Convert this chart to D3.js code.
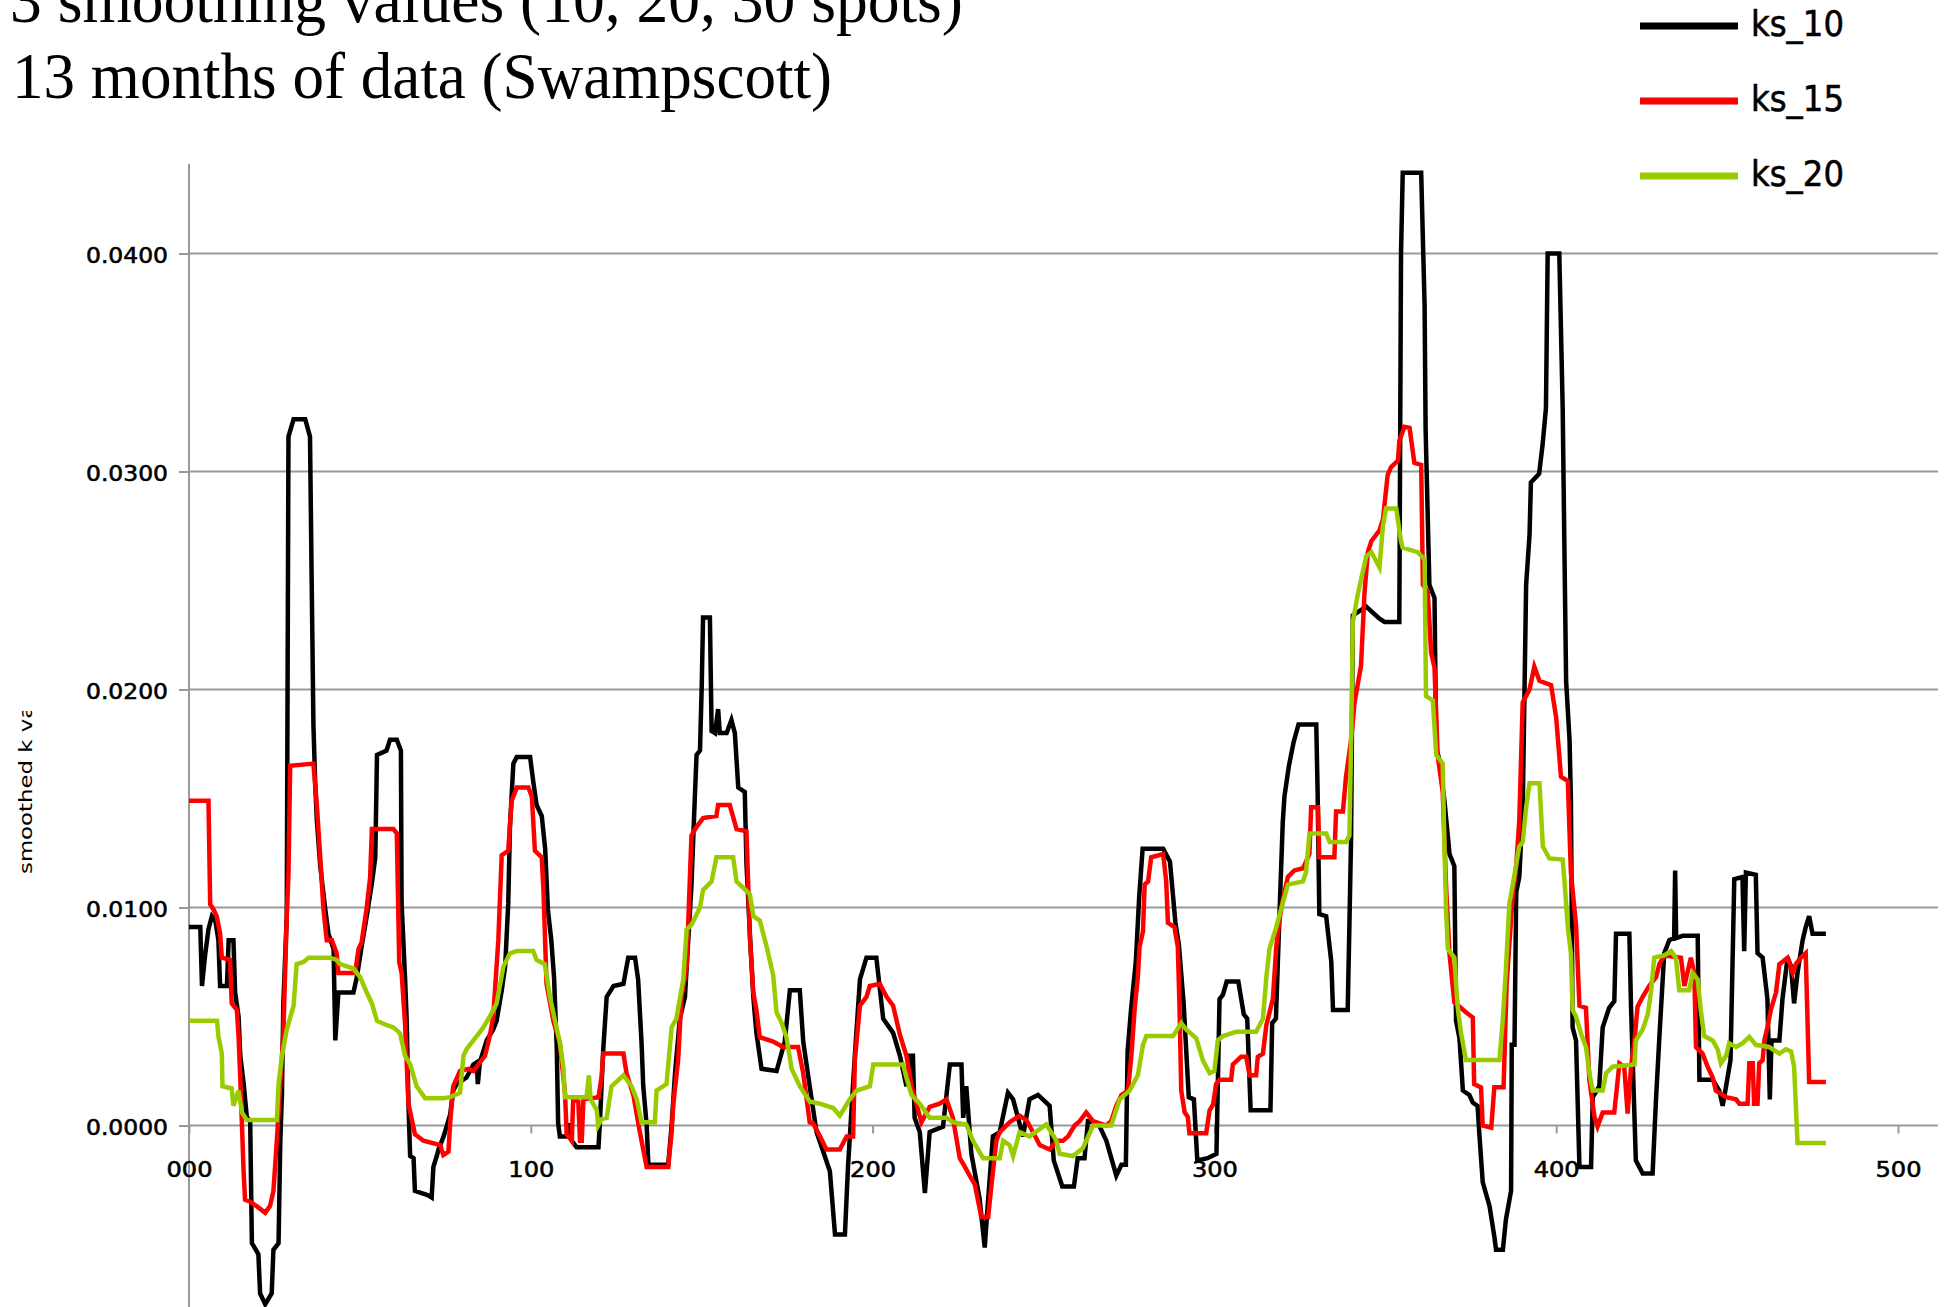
<!DOCTYPE html>
<html>
<head>
<meta charset="utf-8">
<script src="https://cdn.jsdelivr.net/npm/d3@7"></script>
<style>
  body { margin: 0; background: #fff; }
  svg { display: block; }
</style>
</head>
<body>
<div class="canvas"></div>
<script>
// 제목, 축 제목, 범례
const titleLines = ["3 smoothing values (10, 20, 30 spots)", "13 months of data (Swampscott)"];
const yTitle = "smoothed k value";
const seriesNames = ["ks_10", "ks_15", "ks_20"];
const seriesColors = ["#000000", "#ff0000", "#99cc00"];

// 눈금
const xTicks = [0, 100, 200, 300, 400, 500];
const yTicks = [0, 0.01, 0.02, 0.03, 0.04];

// 시리즈 값 [x, value]
const ks10 = [[0,.0091],[3.3,.0091],[3.8,.0064],[4.7,.0078],[5.7,.0090],[6.7,.0096],[7.7,.0094],[8.6,.0085],[9.1,.0064],[11.1,.0064],[11.6,.0085],[13,.0085],[13.5,.0061],[14.5,.0050],[15,.0032],[16,.0019],[16.9,.0004],[17.9,.0002],[18.4,-.0054],[20.3,-.0059],[20.8,-.0077],[22.3,-.0082],[24.2,-.0077],[24.7,-.0057],[26.2,-.0054],[26.7,-.0008],[27.2,.0015],[27.6,.0056],[28.6,.0096],[29.1,.0316],[30.6,.0324],[34,.0324],[35.4,.0316],[35.9,.0249],[36.4,.0184],[36.9,.0158],[37.4,.0140],[38.4,.0119],[39.8,.0100],[40.8,.0088],[42.3,.0081],[42.8,.0039],[43.7,.0061],[48.1,.0061],[49.1,.0068],[50.5,.0082],[52,.0096],[53.5,.0111],[54.5,.0123],[55,.0170],[57.8,.0172],[58.8,.0177],[60.8,.0177],[62,.0172],[62.2,.0102],[63.2,.0068],[63.7,.0048],[64.2,.0010],[64.7,-.0014],[65.7,-.0015],[66.1,-.0030],[70,-.0032],[71,-.0033],[71.5,-.0019],[72.5,-.0014],[73,-.0011],[74.5,-.0005],[76.4,.0005],[77.3,.0016],[78.3,.0019],[81.2,.0022],[83.2,.0028],[84.2,.0029],[84.5,.0019],[85.1,.0029],[87.1,.0039],[89,.0044],[90,.0048],[91.5,.0062],[92.5,.0073],[93.4,.0102],[93.9,.0137],[94.9,.0166],[95.9,.0169],[99.8,.0169],[100.7,.0158],[101.7,.0147],[103.2,.0142],[104.2,.0127],[105,.0099],[106,.0085],[106.8,.0068],[107.6,.0035],[108,.0001],[108.5,-.0005],[110.5,-.0005],[111,.0001],[112,-.0007],[113.4,-.0010],[119.8,-.0010],[120.2,.0001],[121.2,.0035],[122.2,.0059],[124.2,.0064],[127.1,.0065],[128.5,.0077],[130.5,.0077],[131.4,.0067],[132.4,.0038],[132.9,.0018],[133.9,0],[134.4,-.0018],[140.2,-.0018],[141.2,0],[142.2,.0024],[143.6,.0049],[145.1,.0059],[146.1,.0086],[147,.0110],[148,.0151],[148.5,.0170],[149.5,.0172],[150,.0201],[150.4,.0233],[152.4,.0233],[152.9,.0181],[153.9,.0180],[154.8,.0191],[155.3,.0180],[157.3,.0180],[158.7,.0186],[159.7,.0180],[160.7,.0155],[162.6,.0153],[163.1,.0120],[164.1,.0088],[165.1,.0059],[166,.00425],[167.5,.0026],[171.9,.0025],[174.3,.00385],[175.8,.0062],[178.7,.0062],[179.7,.00385],[181.6,.0018],[183.6,-.0003],[187.5,-.0021],[189,-.0050],[191.9,-.0050],[192.8,-.0019],[194.8,.0032],[196.3,.0067],[198.2,.0077],[201.1,.0077],[203.1,.0049],[206,.00425],[208,.0032],[209.9,.0018],[210.9,.0032],[211.8,.0032],[212.3,.00035],[213.8,-.0003],[215.3,-.0031],[216.7,-.0003],[220.6,-.00005],[222.6,.0028],[226,.0028],[226.5,.00035],[227.4,.0018],[228.9,-.0013],[231.3,-.00335],[232.8,-.0056],[233.8,-.0034],[235.2,-.0005],[237.2,-.0003],[239.6,.0015],[241.1,.0012],[244,-.0005],[245.9,.0012],[248.4,.0014],[251.8,.0009],[253,-.0016],[255.5,-.0028],[258.9,-.0028],[260,-.0015],[262,-.0015],[263,.0002],[266,.0001],[268.4,-.0007],[271.3,-.0023],[272.8,-.0018],[274.1,-.0018],[274.6,.0034],[275.6,.0053],[277,.0075],[278,.0105],[279,.0127],[285,.0127],[287,.0121],[288.6,.0093],[289.6,.0083],[291,.0056],[292.5,.0013],[294,.0012],[295,-.0016],[298,-.0015],[300.6,-.0013],[301.5,.0058],[302.5,.0060],[303.6,.0066],[307,.0066],[308.6,.0051],[309.6,.0049],[310.6,.0007],[316.4,.0007],[316.9,.0047],[318,.0049],[319,.0095],[320,.0139],[320.5,.0151],[321.8,.0165],[323.2,.0176],[324.6,.0184],[329.8,.0184],[330.2,.0153],[330.7,.0097],[332.7,.0096],[334.2,.0075],[334.7,.0053],[339,.0053],[339.5,.0092],[340,.0133],[340.5,.0234],[344.4,.0238],[348.3,.02325],[349.8,.0231],[354.1,.0231],[354.6,.0400],[355.1,.0437],[360.5,.0437],[361.5,.0376],[361.8,.0319],[362.9,.0248],[364.4,.0242],[364.9,.0173],[365.8,.0168],[367.3,.0149],[368.8,.01245],[370.2,.0119],[370.7,.0048],[371.7,.0040],[372.7,.0016],[374.6,.0014],[375.6,.00105],[377,.0009],[377.5,-.00035],[378.5,-.0026],[380.5,-.0037],[381.9,-.0051],[382.4,-.0057],[384.4,-.0057],[385.3,-.0043],[386.8,-.0030],[387,.0037],[387.8,.0037],[388.3,.0107],[389.2,.0114],[390.2,.0145],[391.2,.0248],[392.2,.0271],[392.6,.0295],[395,.0299],[396,.0312],[397,.0329],[397.5,.0400],[400.9,.0400],[401.9,.0329],[402.4,.0265],[402.9,.0204],[403.9,.0177],[404.3,.0150],[404.8,.0045],[405.8,.0039],[406.8,-.0019],[410.2,-.0019],[410.7,.0013],[412.6,.0018],[413.6,.0045],[415.5,.0054],[417,.0057],[417.5,.0088],[421.4,.0088],[421.9,.0054],[423.3,-.0016],[425.3,-.0022],[428.2,-.0022],[429.2,.0012],[430.2,.0041],[431.6,.0079],[433.1,.0085],[434.5,.0086],[434.8,.0117],[435.1,.0086],[437,.0087],[441.4,.0087],[441.9,.0021],[445.8,.0021],[447.7,.0016],[448.7,.0009],[449.7,.0018],[451,.0030],[452.1,.0113],[454.5,.0114],[455,.0080],[455.5,.0116],[458.4,.0115],[458.9,.0079],[460.4,.0077],[461.8,.0058],[462.5,.0012],[463,.0039],[465.3,.0039],[466.2,.0058],[467.7,.0077],[468.7,.0073],[469.6,.0056],[470.6,.0070],[472.1,.0085],[473,.0091],[474,.0096],[475,.0088],[478.9,.0088]];

const ks15 = [[0,.0149],[5.7,.0149],[6.2,.01015],[7.2,.0099],[8.1,.0096],[9.1,.0088],[9.6,.0077],[12,.0076],[12.5,.0056],[14,.0053],[14.5,.0041],[15,.0022],[15.5,0],[16,-.0022],[16.4,-.0034],[17.9,-.0035],[19.8,-.0037],[22.3,-.0040],[23.7,-.0037],[24.7,-.0030],[25.7,-.0007],[26.7,.0019],[27.6,.0042],[28.6,.0096],[29.1,.0115],[29.6,.0165],[36.4,.0166],[37.4,.0147],[38.4,.0123],[39.3,.0100],[40.3,.0085],[41.8,.0085],[43.2,.0079],[43.7,.0070],[48.6,.0070],[49.6,.0081],[50.5,.0084],[52,.0100],[53,.0114],[53.5,.0136],[59.8,.0136],[60.8,.0134],[61.5,.0075],[62.2,.0070],[63.2,.0047],[64.2,.0010],[66.1,-.0004],[68.6,-.0007],[73.5,-.0009],[74.4,-.00135],[75.9,-.0012],[76.4,.0001],[77.3,.0018],[79.3,.0025],[81.7,.0026],[83.2,.0025],[86.6,.0032],[88,.0041],[89,.0050],[90.5,.0085],[91,.0105],[91.5,.0124],[93.4,.0126],[94.4,.0149],[95.9,.0155],[99.3,.0155],[100.3,.0151],[101.2,.0126],[103.2,.0123],[103.7,.0108],[104.6,.0065],[106.6,.0048],[108.5,.0038],[110,.0015],[110.5,-.0004],[112,-.0007],[112.4,.0012],[113.9,.0011],[114.4,-.0007],[114.9,-.0007],[115.4,.0012],[119.8,.0013],[120.7,.0022],[121.2,.0033],[127.1,.0033],[128,.0024],[130,.0014],[131.9,-.0003],[133.9,-.0019],[140.2,-.0019],[141.2,-.0003],[141.7,.0010],[143.1,.0030],[144.1,.0059],[145.6,.0073],[147,.0133],[148.5,.0137],[150.4,.0141],[154.3,.0142],[154.8,.0147],[158.2,.0147],[160.2,.0136],[163.1,.0135],[164.1,.0086],[165.1,.0061],[166,.0053],[167,.00405],[170.9,.00385],[173.8,.0036],[178.2,.0036],[179.7,.0024],[181.6,.00015],[182.6,.0001],[184.6,-.0005],[186.5,-.0011],[190.4,-.0011],[192.4,-.0005],[194.3,-.0005],[194.8,.0030],[196.3,.0055],[198.2,.0059],[199.2,.0064],[202.1,.0065],[204.1,.0059],[206,.0055],[208,.00415],[209.9,.0032],[211.4,.0018],[212.8,.0010],[214.3,.00015],[216.7,.00085],[219.6,.0010],[221.6,.0012],[223.5,.00035],[225.5,-.0015],[227,-.0019],[228.4,-.0023],[229.9,-.0027],[231.8,-.0042],[233.8,-.0042],[234.8,-.0027],[236.2,-.0007],[237.2,-.0003],[240.1,.00015],[243,.00045],[245,.00025],[246.9,-.0003],[248.9,-.0009],[251.8,-.0011],[253.8,-.0007],[255.7,-.0007],[257.2,-.0005],[259.1,0],[260.6,.0002],[262.5,.0006],[264.5,.0002],[266.4,.0001],[268.4,0],[269.8,.0002],[271.3,.0009],[272.8,.0014],[274.7,.0016],[275.7,.0032],[276.7,.0054],[277.6,.0068],[278.1,.0082],[279.1,.0089],[279.6,.01105],[280.6,.0112],[281.5,.0123],[285,.01245],[285.9,.0112],[286.4,.0093],[288.3,.0091],[289.3,.0082],[289.8,.0054],[290.3,.0016],[291.3,.0006],[292.2,.0004],[292.7,-.00035],[297.6,-.00035],[298.6,.0007],[299.6,.00095],[300.5,.0019],[301.5,.0021],[304.9,.0021],[305.4,.0028],[307.8,.00315],[309.3,.00315],[310.3,.0023],[312.2,.0023],[312.7,.00315],[314.2,.0033],[315.2,.0046],[317.1,.0058],[318.1,.0082],[319.1,.0095],[320,.01035],[321.5,.0114],[323.4,.0117],[325.9,.0118],[326.8,.0121],[327.8,.01245],[328.3,.0146],[330.3,.0146],[330.7,.0123],[335.1,.0123],[335.6,.0144],[337.6,.0144],[338.5,.0160],[340,.0177],[341,.0194],[342.9,.0211],[343.9,.0244],[344.9,.0263],[345.9,.0268],[348.3,.0273],[349.3,.0278],[350.7,.02985],[351.7,.0302],[353.7,.0305],[354.1,.0314],[355.6,.03205],[357.1,.0320],[358.5,.0304],[360.5,.0303],[361,.0248],[362.4,.0245],[363.4,.0217],[364.4,.0210],[365.3,.0170],[366.8,.0153],[367.8,.0109],[368.8,.00785],[370.2,.00565],[373.6,.0052],[375.6,.00495],[376,.0019],[378,.00175],[378.5,0],[381,-.0001],[381.9,.00175],[384.6,.00175],[385.5,.0065],[387.3,.0106],[388.3,.0119],[389.2,.0140],[390.2,.0194],[392.2,.0200],[393.6,.02105],[395.1,.0204],[398.5,.0202],[400,.0187],[401.4,.0160],[403.4,.0158],[404.3,.0116],[405.8,.0092],[406.8,.0055],[408.7,.0054],[409.7,.0021],[411.2,.0004],[412.1,-.00005],[413.6,.0006],[417,.0006],[418.5,.00285],[419.9,.0027],[420.9,.00055],[421.9,.0027],[422.9,.0039],[423.8,.00545],[425.3,.0059],[427.2,.0064],[429.2,.0068],[430.2,.0074],[431.6,.0078],[436.5,.0077],[437.5,.0064],[439.4,.0077],[440.4,.0070],[440.9,.0036],[442.8,.0033],[444.3,.0027],[445.8,.0022],[446.7,.0016],[449.7,.0013],[452.6,.0012],[453.6,.0010],[456,.0010],[456.5,.00285],[457.5,.00285],[457.9,.0010],[458.9,.0010],[459.4,.00285],[460.4,.0030],[460.9,.0039],[461.8,.0045],[462.8,.0053],[464.3,.0061],[465.3,.0074],[467.7,.0077],[469.2,.0070],[470.1,.0074],[471.6,.0077],[473,.0079],[473.5,.0050],[474,.0020],[478.9,.0020]];

const ks20 = [[0,.0048],[8.2,.0048],[8.6,.0041],[9.6,.0033],[9.8,.0018],[12.5,.0017],[13,.0009],[14.5,.0016],[15.5,.0006],[16.9,.00025],[25.7,.00025],[26.2,.0019],[27.2,.0032],[28.6,.0044],[30.6,.0055],[31.5,.0074],[33.5,.0075],[35,.0077],[41.3,.0077],[43.2,.0076],[44.2,.0074],[48.1,.0072],[50.1,.0068],[52,.0061],[53.5,.0056],[55,.0048],[57.9,.0046],[59.8,.0045],[61.3,.0043],[61.8,.0042],[63.2,.0032],[64.7,.0028],[66.6,.0018],[69.1,.00125],[74.4,.00125],[76.4,.0013],[79.3,.0015],[80.3,.0032],[81.2,.0035],[82.7,.0038],[84.2,.0041],[86.1,.0045],[88,.0050],[90,.0056],[92,.0073],[93.9,.0079],[95.9,.0080],[100.7,.0080],[101.7,.0076],[104.1,.0074],[105.6,.0059],[107.1,.0048],[108.5,.0038],[109.5,.0027],[110,.0013],[116.3,.0013],[117,.0023],[117.5,.0012],[119.3,.0007],[119.7,0],[120.7,.0003],[122.2,.00035],[123.6,.0018],[127.1,.0023],[129.5,.0018],[131,.0012],[132.4,.00015],[136.3,.00015],[136.8,.0016],[139.7,.0019],[141.2,.0045],[142.6,.0049],[144.6,.0067],[145.6,.0090],[147,.0092],[149.5,.0100],[150.4,.0108],[152.9,.0112],[154.3,.0123],[159.2,.0123],[160.2,.0112],[164.1,.0106],[165.1,.0096],[167,.0094],[169,.0082],[170.9,.0069],[171.9,.0052],[173.4,.0047],[174.8,.00405],[176.3,.0026],[178.7,.0018],[181.6,.0011],[184.6,.0010],[188.5,.0008],[190.4,.00045],[193.3,.0012],[195.3,.0016],[199.2,.0018],[200.2,.0028],[208.9,.0028],[209.9,.0022],[211.4,.0014],[213.8,.0010],[216.7,.00035],[221.6,.00035],[223.5,.00015],[227.4,.00005],[229.4,-.0007],[232.3,-.0015],[237.2,-.0015],[238.2,-.0007],[240.1,-.0009],[241.1,-.0014],[243,-.0003],[245.9,-.0005],[250.8,.00005],[253.8,-.0007],[254.7,-.0013],[258.6,-.0014],[261.5,-.00105],[264.5,0],[269.8,0],[272.3,.0012],[275.2,.0016],[277.6,.0023],[279.1,.0037],[280.1,.0041],[287.9,.0041],[290.3,.0047],[291.8,.0044],[294.7,.0040],[296.6,.0030],[298.6,.0024],[300,.0025],[301,.0039],[302.5,.0041],[306.4,.0043],[312.2,.0043],[314.2,.0049],[315.2,.0068],[316.1,.0081],[318.1,.0091],[320,.0102],[321.5,.01105],[325.9,.0112],[326.8,.0116],[327.8,.0134],[332.7,.0134],[333.7,.0130],[338.5,.0130],[339.5,.0133],[340,.0177],[340.5,.0231],[342,.0244],[344.4,.0261],[345.9,.0263],[347.3,.0259],[348.3,.0256],[349.3,.0275],[350.2,.0283],[353.2,.0283],[354.6,.0268],[355.1,.0265],[359.5,.0263],[361.5,.02596],[361.9,.0197],[363.9,.0195],[364.9,.0170],[366.8,.0166],[367.3,.0128],[367.8,.0098],[368.3,.0081],[370.2,.0077],[371.2,.0054],[372.2,.0042],[373.6,.0030],[383.4,.0030],[384.4,.0049],[385.3,.0072],[386.3,.0102],[387.3,.01105],[389.2,.0128],[390.2,.0130],[391.2,.0146],[392.2,.0157],[395.1,.0157],[396.1,.0128],[398,.01225],[401.9,.0122],[402.4,.01126],[403.4,.0091],[404.3,.0079],[404.8,.0053],[405.8,.0050],[407.3,.0042],[408.7,.0036],[409.7,.0024],[410.7,.0016],[413.6,.0016],[414.6,.0024],[416.5,.0027],[422.9,.0028],[423.3,.0039],[425.3,.0044],[426.8,.0051],[427.7,.0061],[428.7,.0077],[431.6,.0078],[433.6,.0080],[435,.0077],[436,.0062],[438.9,.0062],[439.9,.0070],[441.4,.0067],[442.3,.0053],[443.3,.0041],[445.8,.0039],[447.2,.0035],[448.2,.00285],[449.7,.0032],[450.6,.00377],[452.6,.0036],[454.5,.00377],[456.5,.00407],[458.4,.0037],[462.3,.0036],[465.3,.0033],[467.2,.0035],[468.7,.0034],[469.6,.0027],[470.6,-.0008],[478.9,-.0008]];

const seriesData = [ks10, ks15, ks20];

// SVG 크기
const svgWidth = 1948, svgHeight = 1307;
const plotTop = 164, plotRight = 1938;

const svg = d3.select(".canvas").append("svg")
  .attr("width", svgWidth)
  .attr("height", svgHeight);

// 스케일
const xScale = d3.scaleLinear().domain([0, 500]).range([189, 1898]);
const yScale = d3.scaleLinear().domain([0, 0.04]).range([1125.5, 253.5]);

// 가로 격자선
svg.append("g")
  .selectAll("line")
  .data(yTicks)
  .join("line")
  .attr("x1", xScale(0))
  .attr("x2", plotRight)
  .attr("y1", d => yScale(d))
  .attr("y2", d => yScale(d))
  .attr("stroke", "#999")
  .attr("stroke-width", 2);

// y 축 선
svg.append("line")
  .attr("x1", xScale(0)).attr("x2", xScale(0))
  .attr("y1", plotTop).attr("y2", svgHeight)
  .attr("stroke", "#999")
  .attr("stroke-width", 2);

// y 축
const gy = svg.append("g")
  .attr("transform", `translate(${xScale(0)},0)`)
  .call(d3.axisLeft(yScale).tickValues(yTicks).tickFormat(d3.format(".4f")).tickSize(10).tickPadding(11));
gy.select(".domain").remove();
gy.selectAll("line").attr("stroke", "#999").attr("stroke-width", 2);
gy.selectAll("text")
  .attr("dy", "0.43em")
  .attr("font-family", "DejaVu Sans")
  .attr("font-size", 22)
  .attr("fill", "#000")
  .attr("stroke", "#000")
  .attr("stroke-width", 0.6)
  .attr("textLength", 82)
  .attr("lengthAdjust", "spacingAndGlyphs");

// x 축
const gx = svg.append("g")
  .attr("transform", `translate(0,${yScale(0)})`)
  .call(d3.axisBottom(xScale).tickValues(xTicks).tickFormat(d3.format("03d")).tickSize(8).tickPadding(28));
gx.select(".domain").remove();
gx.selectAll("line").attr("stroke", "#999").attr("stroke-width", 2);
gx.selectAll("text")
  .attr("font-family", "DejaVu Sans")
  .attr("font-size", 22)
  .attr("fill", "#000")
  .attr("stroke", "#000")
  .attr("stroke-width", 0.6)
  .attr("textLength", 46)
  .attr("lengthAdjust", "spacingAndGlyphs");

// 선 그래프
const line = d3.line()
  .x(d => xScale(d[0]))
  .y(d => yScale(d[1]));

seriesData.forEach((data, i) => {
  svg.append("path")
    .datum(data)
    .attr("d", line)
    .attr("fill", "none")
    .attr("stroke", seriesColors[i])
    .attr("stroke-width", 4.5)
    .attr("stroke-linejoin", "miter");
});

// 제목
svg.append("text")
  .attr("x", 10).attr("y", 22)
  .attr("font-family", "Liberation Serif")
  .attr("font-size", 65)
  .attr("textLength", 953)
  .attr("lengthAdjust", "spacingAndGlyphs")
  .text(titleLines[0]);
svg.append("text")
  .attr("x", 12).attr("y", 98)
  .attr("font-family", "Liberation Serif")
  .attr("font-size", 66)
  .attr("textLength", 820)
  .attr("lengthAdjust", "spacingAndGlyphs")
  .text(titleLines[1]);

// y 축 제목 (위쪽이 잘린 모양)
svg.append("clipPath").attr("id", "ytclip")
  .append("rect").attr("x", 0).attr("y", 711).attr("width", 60).attr("height", svgHeight - 711);
svg.append("g")
  .attr("clip-path", "url(#ytclip)")
  .append("text")
  .attr("transform", "translate(32,874) rotate(-90)")
  .attr("font-family", "DejaVu Sans")
  .attr("font-size", 18)
  .attr("textLength", 204)
  .attr("lengthAdjust", "spacingAndGlyphs")
  .text(yTitle);

// 범례
const legendY = [26, 101, 176];
const legend = svg.selectAll(".legend")
  .data(seriesNames)
  .join("g")
  .attr("class", "legend")
  .attr("transform", (d, i) => `translate(1640,${legendY[i]})`);
legend.append("line")
  .attr("x1", 0).attr("x2", 98)
  .attr("stroke", (d, i) => seriesColors[i])
  .attr("stroke-width", 7);
legend.append("text")
  .attr("x", 111).attr("y", 10)
  .attr("font-family", "DejaVu Sans")
  .attr("font-size", 35)
  .attr("stroke", "#000")
  .attr("stroke-width", 0.6)
  .attr("textLength", 93)
  .attr("lengthAdjust", "spacingAndGlyphs")
  .text(d => d);
</script>
</body>
</html>
